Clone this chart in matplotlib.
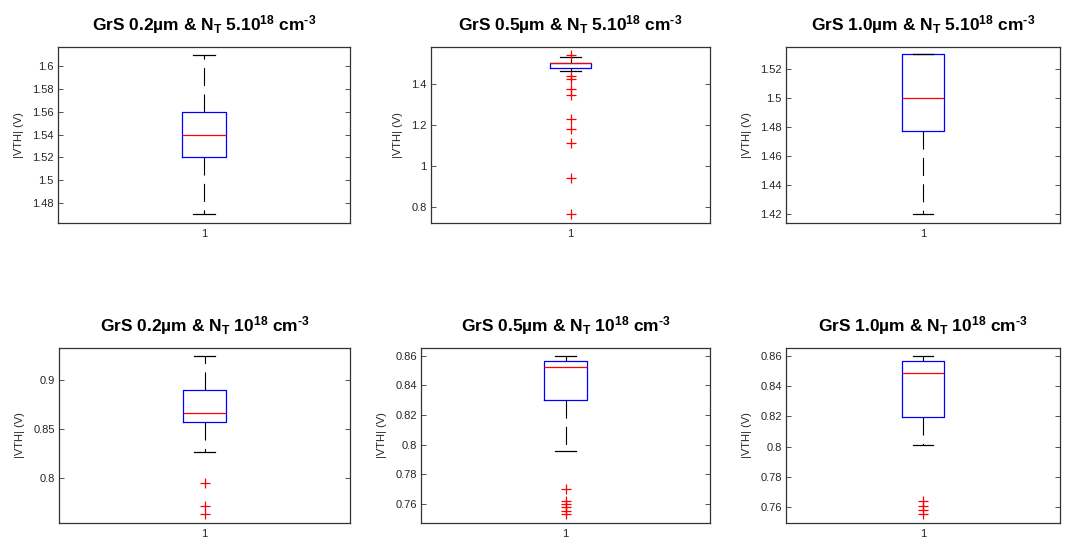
import matplotlib
matplotlib.use("Agg")
import matplotlib.pyplot as plt
from matplotlib.ticker import FuncFormatter

plt.rcParams["font.family"] = ["Liberation Sans", "DejaVu Sans"]
plt.rcParams["mathtext.fontset"] = "custom"
plt.rcParams["mathtext.rm"] = "Liberation Sans:bold"
plt.rcParams["mathtext.bf"] = "Liberation Sans:bold"
plt.rcParams["mathtext.default"] = "bf"
plt.rcParams["lines.scale_dashes"] = False

# Threshold-voltage spread per grain size (GrS) and trap density (N_T)
titles = [
    r"GrS 0.2µm & N$_{T}$ 5.10$^{18}$ cm$^{\text{-3}}$",
    r"GrS 0.5µm & N$_{T}$ 5.10$^{18}$ cm$^{\text{-3}}$",
    r"GrS 1.0µm & N$_{T}$ 5.10$^{18}$ cm$^{\text{-3}}$",
    r"GrS 0.2µm & N$_{T}$ 10$^{18}$ cm$^{\text{-3}}$",
    r"GrS 0.5µm & N$_{T}$ 10$^{18}$ cm$^{\text{-3}}$",
    r"GrS 1.0µm & N$_{T}$ 10$^{18}$ cm$^{\text{-3}}$",
]
q1 = [1.520, 1.478, 1.4775, 0.857, 0.8303, 0.8196]
median = [1.540, 1.502, 1.500, 0.867, 0.8526, 0.849]
q3 = [1.560, 1.505, 1.530, 0.8898, 0.8564, 0.8565]
whisker_low = [1.470, 1.463, 1.420, 0.827, 0.7954, 0.8013]
whisker_high = [1.610, 1.532, 1.530, 0.925, 0.860, 0.860]
outliers = [
    [],
    [1.543, 1.441, 1.424, 1.378, 1.348, 1.229, 1.181, 1.111, 0.940, 0.764],
    [],
    [0.795, 0.771, 0.763],
    [0.770, 0.7615, 0.7595, 0.7575, 0.755, 0.753],
    [0.764, 0.761, 0.758, 0.7555],
]
y_ranges = [
    (1.4625, 1.6167),
    (0.720, 1.582),
    (1.4138, 1.5351),
    (0.754, 0.933),
    (0.7468, 0.8654),
    (0.7495, 0.8653),
]
y_ticks = [
    [1.48, 1.50, 1.52, 1.54, 1.56, 1.58, 1.60],
    [0.8, 1.0, 1.2, 1.4],
    [1.42, 1.44, 1.46, 1.48, 1.50, 1.52],
    [0.80, 0.85, 0.90],
    [0.76, 0.78, 0.80, 0.82, 0.84, 0.86],
    [0.76, 0.78, 0.80, 0.82, 0.84, 0.86],
]
category = ["1"]
ylabel = "|VTH| (V)"

W, H = 1068, 540
# axes rectangles in pixels: left, top, right, bottom
rects = [
    (58, 47, 350, 223),
    (431, 47, 710, 223),
    (786, 47, 1060, 223),
    (59, 348, 350, 523),
    (421, 348, 710, 523),
    (786, 348, 1060, 523),
]

fig = plt.figure(figsize=(W / 100, H / 100), dpi=100)
text_color = "#262626"

for i in range(6):
    l, t, r, b = rects[i]
    ax = fig.add_axes([l / W, 1 - b / H, (r - l) / W, (b - t) / H])
    stats = [dict(med=median[i], q1=q1[i], q3=q3[i],
                  whislo=whisker_low[i], whishi=whisker_high[i],
                  fliers=outliers[i], label=category[0])]
    ax.bxp(stats, positions=[1], widths=0.15, capwidths=0.075,
           showfliers=True, manage_ticks=False,
           boxprops=dict(color="#0000ff", linewidth=0.9),
           medianprops=dict(color="#ff0000", linewidth=0.9),
           whiskerprops=dict(color="black", linewidth=0.8,
                             linestyle=(0, (13, 6))),
           capprops=dict(color="black", linewidth=0.9),
           flierprops=dict(marker="+", markeredgecolor="#ff0000",
                           markerfacecolor="none", markersize=7,
                           markeredgewidth=0.9, linestyle="none"))
    ax.set_xlim(0.5, 1.5)
    ax.set_xticks([1])
    ax.set_xticklabels(category)
    ax.set_ylim(*y_ranges[i])
    ax.set_yticks(y_ticks[i])
    ax.yaxis.set_major_formatter(FuncFormatter(lambda v, p: f"{v:g}"))
    ax.tick_params(axis="y", direction="in", length=3.5, width=0.6,
                   right=True, labelsize=8, labelcolor=text_color,
                   color="#333333", pad=3)
    ax.tick_params(axis="x", direction="in", length=0, labelsize=8,
                   labelcolor=text_color, pad=4)
    for sp in ax.spines.values():
        sp.set_color("#333333")
        sp.set_linewidth(0.9)
    ax.set_ylabel(ylabel, fontsize=8, color=text_color, labelpad=6)
    ax.set_title(titles[i], fontsize=12.5, fontweight="bold", pad=12)

fig.savefig("out.png", dpi=100, facecolor="white")
